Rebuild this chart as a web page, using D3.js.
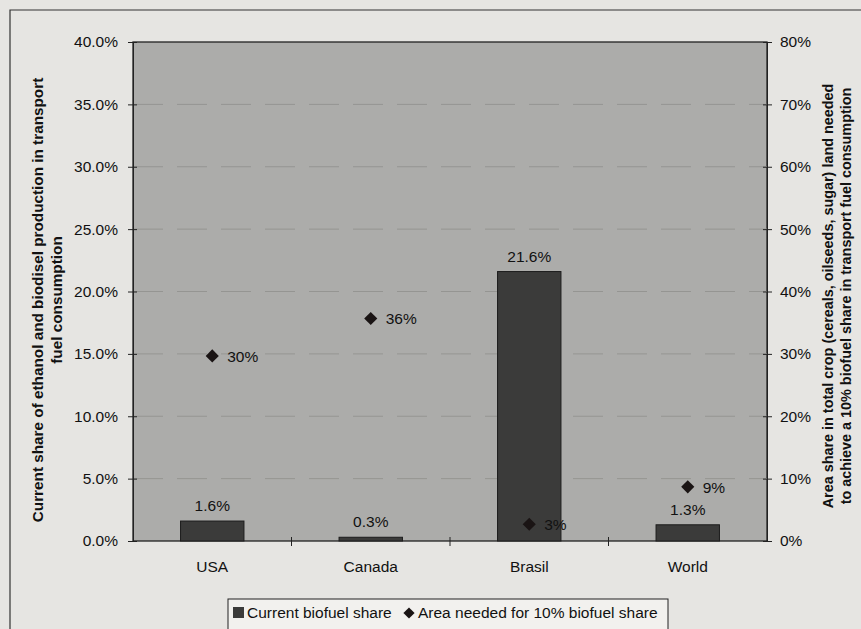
<!DOCTYPE html>
<html>
<head>
<meta charset="utf-8">
<script src="https://cdn.jsdelivr.net/npm/d3@7"></script>
<style>
  body { margin: 0; background: #e6e5e2; }
  svg { display: block; font-family: "Liberation Sans", Arial, sans-serif; }
</style>
</head>
<body>
<div id="chart"></div>
<script>
// data
let regions = ["USA", "Canada", "Brasil", "World"];
let biofuelShare = [1.6, 0.3, 21.6, 1.3];      // left axis, %
let areaNeeded = [30, 36, 3, 9];               // right axis, %
let leftTicks = [0, 5, 10, 15, 20, 25, 30, 35, 40];
let rightTicks = [0, 10, 20, 30, 40, 50, 60, 70, 80];

let width = 861, height = 629;
let plot = { left: 133, right: 767, top: 42, bottom: 541 };
let fs = 15.5;

let svg = d3.select("#chart")
    .append("svg")
    .attr("width", width)
    .attr("height", height);

// page / chart frame
svg.append("rect").attr("width", width).attr("height", height).attr("fill", "#e6e5e2");
svg.append("path")
    .attr("d", `M10,${height} V10 H${width}`)
    .attr("fill", "none").attr("stroke", "#333").attr("stroke-width", 1.2);

let x = d3.scaleBand()
    .domain(regions)
    .range([plot.left, plot.right])
    .paddingInner(0.6)
    .paddingOuter(0.3);
let yL = d3.scaleLinear().domain([0, 40]).range([plot.bottom, plot.top]);
let yR = d3.scaleLinear().domain([0, 80]).range([plot.bottom, plot.top]);

// plot area
svg.append("rect")
    .attr("x", plot.left).attr("y", plot.top)
    .attr("width", plot.right - plot.left).attr("height", plot.bottom - plot.top)
    .attr("fill", "#acacaa").attr("stroke", "#222").attr("stroke-width", 1.3);

// dashed gridlines
svg.append("g").selectAll("line")
    .data(leftTicks.slice(1, -1))
    .join("line")
    .attr("x1", plot.left).attr("x2", plot.right)
    .attr("y1", d => yL(d)).attr("y2", d => yL(d))
    .attr("stroke", "#959592").attr("stroke-width", 1)
    .attr("stroke-dasharray", "30,14");

// left axis
let leftAxis = svg.append("g")
    .attr("transform", `translate(${plot.left},0)`)
    .call(d3.axisLeft(yL).tickValues(leftTicks).tickFormat(d => d.toFixed(1) + "%")
        .tickSizeInner(5).tickSizeOuter(0).tickPadding(10));
leftAxis.select(".domain").attr("stroke", "#222");
leftAxis.selectAll(".tick line").attr("x2", 4).attr("x1", -5).attr("stroke", "#222");
leftAxis.selectAll("text").attr("font-size", fs).attr("fill", "#111")
    .attr("font-family", "Liberation Sans, Arial, sans-serif");

// right axis
let rightAxis = svg.append("g")
    .attr("transform", `translate(${plot.right},0)`)
    .call(d3.axisRight(yR).tickValues(rightTicks).tickFormat(d => d + "%")
        .tickSizeInner(5).tickSizeOuter(0).tickPadding(8));
rightAxis.select(".domain").attr("stroke", "#222");
rightAxis.selectAll(".tick line").attr("x1", -4).attr("x2", 5).attr("stroke", "#222");
rightAxis.selectAll("text").attr("font-size", fs).attr("fill", "#111")
    .attr("font-family", "Liberation Sans, Arial, sans-serif");

// bottom axis: ticks between categories
let step = x.step();
let bottomAxis = svg.append("g")
    .attr("transform", `translate(0,${plot.bottom})`)
    .call(d3.axisBottom(x).tickSize(0).tickPadding(20));
bottomAxis.select(".domain").remove();
bottomAxis.selectAll("text").attr("font-size", fs).attr("fill", "#111")
    .attr("font-family", "Liberation Sans, Arial, sans-serif");
svg.append("g").selectAll("line")
    .data(regions.slice(1))
    .join("line")
    .attr("x1", d => x(d) - step * x.paddingInner() / 2)
    .attr("x2", d => x(d) - step * x.paddingInner() / 2)
    .attr("y1", plot.bottom - 4).attr("y2", plot.bottom + 5)
    .attr("stroke", "#222");

// bars
svg.append("g").selectAll("rect")
    .data(regions)
    .join("rect")
    .attr("x", d => x(d))
    .attr("width", x.bandwidth())
    .attr("y", (d, i) => yL(biofuelShare[i]))
    .attr("height", (d, i) => plot.bottom - yL(biofuelShare[i]))
    .attr("fill", "#3b3b3a").attr("stroke", "#1c1c1c");

svg.append("g").selectAll("text")
    .data(regions)
    .join("text")
    .attr("x", d => x(d) + x.bandwidth() / 2)
    .attr("y", (d, i) => yL(biofuelShare[i]) - 10)
    .attr("text-anchor", "middle")
    .attr("font-size", fs).attr("fill", "#111")
    .text((d, i) => biofuelShare[i].toFixed(1) + "%");

// diamonds
let diamond = d3.symbol().type(d3.symbolDiamond2).size(110);
svg.append("g").selectAll("path")
    .data(regions)
    .join("path")
    .attr("d", diamond)
    .attr("transform", (d, i) => `translate(${x(d) + x.bandwidth() / 2},${yR(areaNeeded[i]) + 2})`)
    .attr("fill", "#1a1414");

svg.append("g").selectAll("text")
    .data(regions)
    .join("text")
    .attr("x", d => x(d) + x.bandwidth() / 2 + 15)
    .attr("y", (d, i) => yR(areaNeeded[i]) + 8)
    .attr("font-size", fs).attr("fill", "#111")
    .text((d, i) => areaNeeded[i] + "%");

// axis titles
let leftTitle = svg.append("text")
    .attr("transform", `translate(43,300) rotate(-90)`)
    .attr("text-anchor", "middle")
    .attr("font-size", 15.3).attr("font-weight", "bold").attr("fill", "#111");
leftTitle.append("tspan").attr("x", 0).attr("dy", 0)
    .text("Current share of ethanol and biodisel production in transport");
leftTitle.append("tspan").attr("x", 0).attr("dy", 19).text("fuel consumption");

let rightTitle = svg.append("text")
    .attr("transform", `translate(833,296) rotate(-90)`)
    .attr("text-anchor", "middle")
    .attr("font-size", 14.4).attr("font-weight", "bold").attr("fill", "#111");
rightTitle.append("tspan").attr("x", 0).attr("dy", 0)
    .text("Area share in total crop (cereals, oilseeds, sugar) land needed");
rightTitle.append("tspan").attr("x", 0).attr("dy", 18)
    .text("to achieve a 10% biofuel share in transport fuel consumption");

// legend
let legend = svg.append("g").attr("transform", "translate(228,599)");
legend.append("rect")
    .attr("width", 440).attr("height", 36)
    .attr("fill", "#f2f1ee").attr("stroke", "#222");
legend.append("rect")
    .attr("x", 5).attr("y", 8).attr("width", 11).attr("height", 11)
    .attr("fill", "#3b3b3a");
legend.append("text")
    .attr("x", 19).attr("y", 19)
    .attr("font-size", fs).attr("fill", "#111")
    .text("Current biofuel share");
legend.append("path")
    .attr("d", d3.symbol().type(d3.symbolDiamond2).size(80))
    .attr("transform", "translate(181,14)")
    .attr("fill", "#1a1414");
legend.append("text")
    .attr("x", 190).attr("y", 19)
    .attr("font-size", fs).attr("fill", "#111")
    .text("Area needed for 10% biofuel share");
</script>
</body>
</html>
